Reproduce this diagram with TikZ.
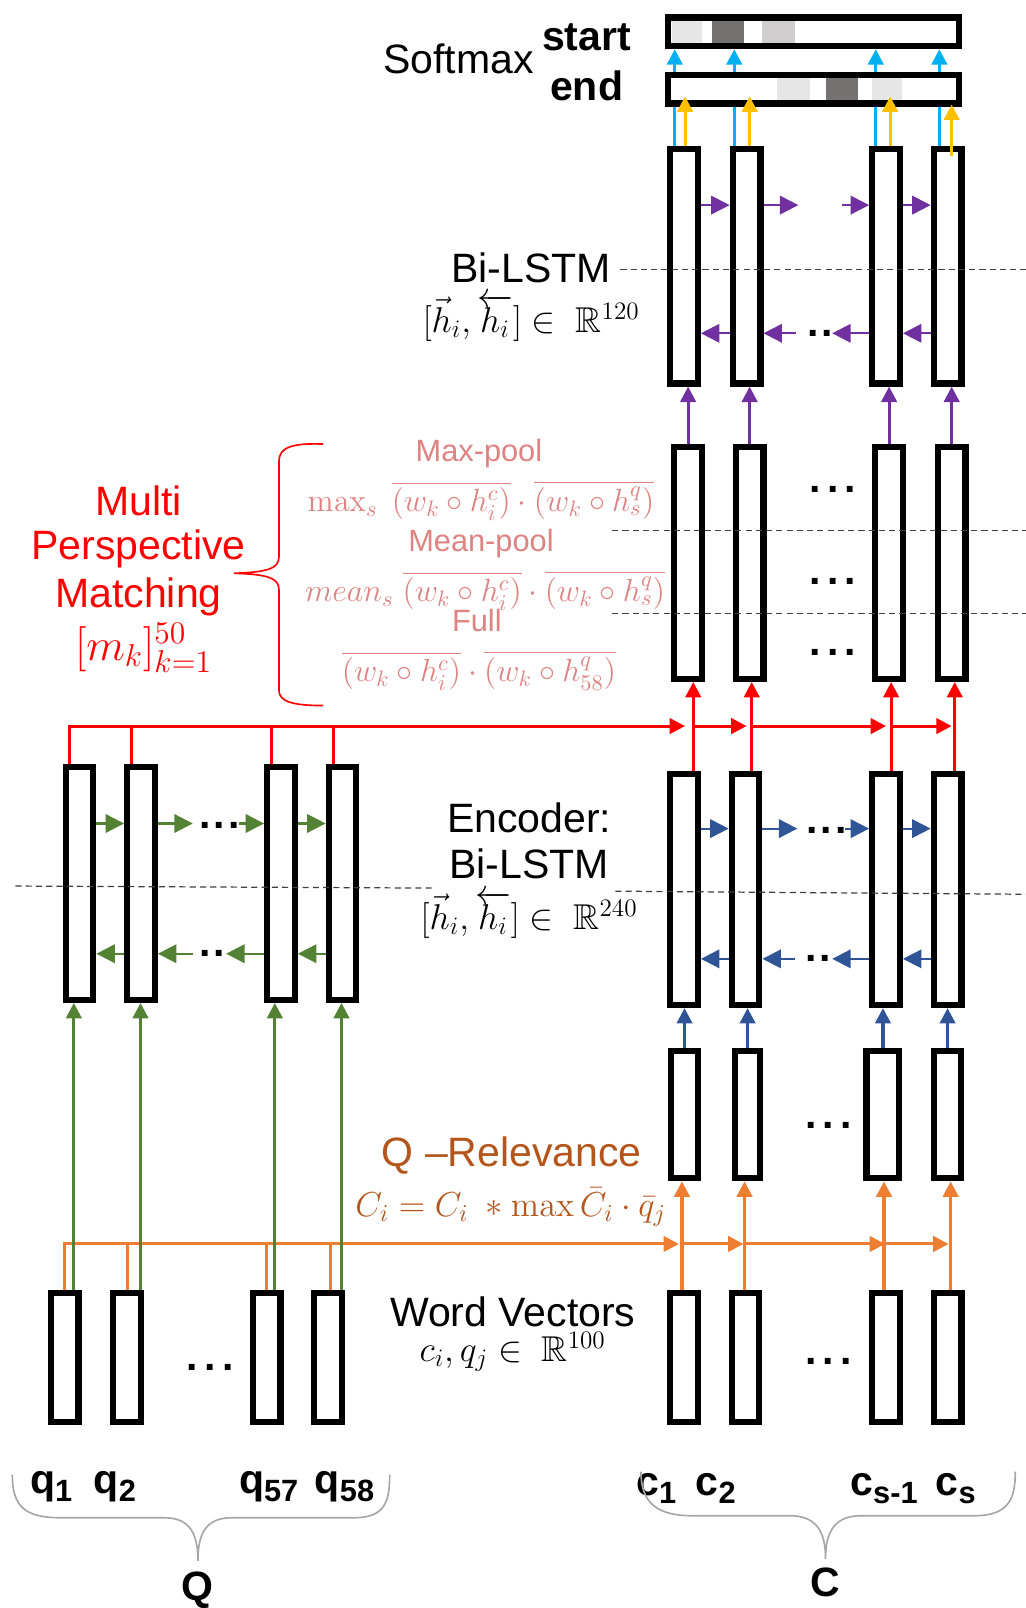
\RequirePackage{fix-cm}
\documentclass[tikz,border=0pt]{standalone}
\usepackage{amsmath,amssymb}
\usepackage[no-math]{fontspec}
\setmainfont{Liberation Sans}
\usetikzlibrary{arrows.meta,calc}
\definecolor{cyanc}{HTML}{00B0F0}
\definecolor{goldc}{HTML}{FFC000}
\definecolor{purc}{HTML}{7030A0}
\definecolor{redc}{HTML}{FF0000}
\definecolor{grnc}{HTML}{548235}
\definecolor{bluc}{HTML}{2F5597}
\definecolor{orc}{HTML}{ED7D31}
\definecolor{brnc}{HTML}{B4561C}
\definecolor{pinkc}{HTML}{DE8282}
\definecolor{bracec}{HTML}{A6A6A6}
\definecolor{sqa}{HTML}{E7E6E6}
\definecolor{sqb}{HTML}{767171}
\definecolor{sqc}{HTML}{D0CECE}
\tikzset{
  cell/.style={draw=black, line width=3pt, fill=white, minimum width=13.5pt, inner sep=0pt},
  smbox/.style={draw=black, line width=3pt, fill=white, minimum width=142pt, minimum height=14pt, inner sep=0pt},
  vtip/.style={-{Triangle[length=7.5pt,width=7.5pt]}},
  htip/.style={-{Triangle[length=9pt,width=9pt]}},
  cyanar/.style={vtip, draw=cyanc, line width=1.5pt},
  goldar/.style={vtip, draw=goldc, line width=1.5pt},
  purv/.style={vtip, draw=purc, line width=1.5pt},
  purh/.style={htip, draw=purc, line width=1pt},
  redln/.style={draw=redc, line width=1.5pt},
  redar/.style={redln, vtip},
  orln/.style={draw=orc, line width=1.5pt},
  orar/.style={orln, vtip},
  grv/.style={vtip, draw=grnc, line width=1.5pt},
  grh/.style={htip, draw=grnc, line width=1pt},
  bluv/.style={vtip, draw=bluc, line width=1.5pt},
  bluh/.style={htip, draw=bluc, line width=1pt},
  dsh/.style={draw=black!75, line width=0.6pt, dash pattern=on 3pt off 2pt},
  dts/.style={inner sep=0pt, font=\fontsize{20}{24}\selectfont\bfseries},
  lbl/.style={inner sep=0pt, font=\fontsize{20}{24}\selectfont},
  blbl/.style={inner sep=0pt, font=\fontsize{20}{24}\selectfont\bfseries},
  mth/.style={inner sep=0pt, font=\fontsize{17.5}{21}\selectfont},
  pinkt/.style={inner sep=0pt, text=pinkc, font=\fontsize{15}{18}\selectfont},
  pinkm/.style={inner sep=0pt, text=pinkc, font=\fontsize{15.6}{18}\selectfont},
  redt/.style={inner sep=0pt, text=redc, font=\fontsize{20}{24}\selectfont},
  brnt/.style={inner sep=0pt, text=brnc, font=\fontsize{20}{24}\selectfont},
  bracel/.style={draw=bracec, line width=0.8pt},
}
\newcommand{\sbl}[1]{\raisebox{-4pt}{\fontsize{15}{15}\selectfont\bfseries #1}}
\newcommand{\hlr}{[\vec{h}_i,\overleftarrow{\smash[t]{h_i}\rule{0pt}{0.68em}}]}
\begin{document}
\begin{tikzpicture}[x=0.5pt,y=-0.5pt]
\useasboundingbox (0,0) rectangle (1000,1568);

% ---------- top Bi-LSTM cells
\foreach \n/\x in {1/667,2/728,3/864,4/924}
  \node[cell,minimum height=114.5pt] (bc\n) at (\x,259.5) {};
% start box
\node[smbox] (sm1) at (793,31) {};
\fill[sqa] (655,20) rectangle (685,42);
\fill[sqb] (694,20) rectangle (725,42);
\fill[sqc] (743,20) rectangle (775,42);
\foreach \n/\d in {1/-9,2/-12,3/-10,4/-8}
  \draw[cyanar] ($(bc\n.north)+(\d,0)$) -- ($(bc\n.north |- sm1.south)+(\d,0)$);
% end box
\node[smbox] (sm2) at (793,87) {};
\fill[sqa] (758,76) rectangle (790,98);
\fill[sqb] (805,76) rectangle (837,98);
\fill[sqa] (850,76) rectangle (880,98);
\foreach \n/\d in {1/1,2/3,3/4}
  \draw[goldar] ($(bc\n.north)+(\d,0)$) -- ($(bc\n.north |- sm2.south)+(\d,-10)$);
\draw[goldar] ($(bc4.north)+(4,10)$) -- ($(bc4.north |- sm2.south)+(4,-2)$);

\node[lbl] (softmax) at (447,57) {Softmax};
\node[blbl] (start) at (572,36) {start};
\node[blbl] (end) at (572,84) {end};

% purple recurrent arrows
\draw[purh] ($(bc1.east)+(0,-59.5)$) -- ($(bc2.west)+(0,-59.5)$);
\draw[purh] ($(bc2.east)+(0,-59.5)$) -- ($(bc2.east)+(34,-59.5)$);
\draw[purh] ($(bc3.west)+(-26,-59.5)$) -- ($(bc3.west)+(0,-59.5)$);
\draw[purh] ($(bc3.east)+(0,-59.5)$) -- ($(bc4.west)+(0,-59.5)$);
\draw[purh] ($(bc2.west)+(0,65.5)$) -- ($(bc1.east)+(0,65.5)$);
\draw[purh] ($(bc2.east)+(32,65.5)$) -- ($(bc2.east)+(0,65.5)$);
\node[dts] (dp1) at (800,325) {.\hspace{1.5pt}.};
\draw[purh] ($(bc3.west)+(0,65.5)$) -- ($(bc3.west)+(-36,65.5)$);
\draw[purh] ($(bc4.west)+(0,65.5)$) -- ($(bc3.east)+(0,65.5)$);
\draw[dsh] (605,263) -- (1000,263);
\node[lbl] (bilstm2) at (518,261) {Bi-LSTM};
\node[mth] (f120) at (518,310) {$\hlr\in\ \mathbb{R}^{120}$};

% ---------- matching cells
\foreach \n/\x in {1/671,2/731,3/867,4/928}
  \node[cell,minimum height=113pt] (mc\n) at (\x,549) {};
\foreach \n in {1,...,4}
  \draw[purv] (mc\n.north) -- (mc\n.north |- bc\n.south);
\node[dts] (dm1) at (812,477) {.\hspace{3pt}.\hspace{3pt}.};
\node[dts] (dm2) at (812,567) {.\hspace{3pt}.\hspace{3pt}.};
\node[dts] (dm3) at (812,636) {.\hspace{3pt}.\hspace{3pt}.};
\draw[dsh] (597,517) -- (1000,517);
\draw[dsh] (597,598) -- (1000,598);

% matching text
\node[pinkt] (maxp) at (467,442) {Max-pool};
\node[pinkm] (fmax) at (469,488) {$\max_s\ \overline{(w_k\circ h_i^c)}\cdot\overline{(w_k\circ h_s^q)}$};
\node[pinkt] (meanp) at (469,530) {Mean-pool};
\node[pinkm] (fmean) at (473,576) {$mean_s\ \overline{(w_k\circ h_i^c)}\cdot\overline{(w_k\circ h_s^q)}$};
\node[pinkt] (full) at (465,605) {Full};
\node[pinkm] (ffull) at (467,654) {$\overline{(w_k\circ h_i^c)}\cdot\overline{(w_k\circ h_{58}^q)}$};
\draw[draw=redc, line width=0.8pt] (315,433) .. controls (285,432) and (272,436) .. (272,450) -- (272,543) .. controls (272,554) and (262,558) .. (228,559) .. controls (262,560) and (272,564) .. (272,575) -- (272,673) .. controls (272,684) and (285,688) .. (315,688);
\node[redt] (multi) at (135,488) {Multi};
\node[redt] (persp) at (135,535) {Perspective};
\node[redt] (match) at (135,582) {Matching};
\node[redt, font=\fontsize{22}{26}\selectfont] (mk) at (140,632) {$[m_k]_{k=1}^{50}$};

% ---------- encoder cells
\foreach \n/\x in {1/667,2/727,3/864,4/924}
  \node[cell,minimum height=112.5pt] (ec\n) at (\x,867.5) {};
\foreach \n/\x in {1/77.5,2/137.5,3/274,4/334}
  \node[cell,minimum height=113.5pt] (eq\n) at (\x,861.5) {};

% red connections
\coordinate (rbus) at (0,708);
\draw[redar] ($(eq1.north)+(-10,0)$) |- ($(ec1.north |- rbus)+(1,0)$);
\foreach \n in {2,3,4}
  \draw[redln] ($(eq\n.north)+(-9,0)$) -- ($(eq\n.north |- rbus)+(-9,-1.5)$);
\foreach \n/\d in {1/9,2/6,3/5,4/7}
  \draw[redar] ($(ec\n.north)+(\d,0)$) -- ($(ec\n.north |- mc\n.south)+(\d,0)$);
\draw[redar] ($(ec1.north |- rbus)+(9,0)$) -- ($(ec2.north |- rbus)+(1,0)$);
\draw[redar] ($(ec2.north |- rbus)+(6,0)$) -- ($(ec3.north |- rbus)+(0,0)$);
\draw[redar] ($(ec3.north |- rbus)+(5,0)$) -- ($(ec4.north |- rbus)+(4,0)$);

% green recurrent
\draw[grh] ($(eq1.east)+(0,-58.5)$) -- ($(eq2.west)+(0,-58.5)$);
\draw[grh] ($(eq2.east)+(0,-58.5)$) -- ($(eq2.east)+(34,-58.5)$);
\node[dts] (dg1) at (214,805) {.\hspace{1.5pt}.\hspace{1.5pt}.};
\draw[grh] ($(eq3.west)+(-24,-58.5)$) -- ($(eq3.west)+(0,-58.5)$);
\draw[grh] ($(eq3.east)+(0,-58.5)$) -- ($(eq4.west)+(0,-58.5)$);
\draw[grh] ($(eq2.west)+(0,68.5)$) -- ($(eq1.east)+(0,68.5)$);
\draw[grh] ($(eq2.east)+(34,68.5)$) -- ($(eq2.east)+(0,68.5)$);
\node[dts] (dg2) at (207,930) {.\hspace{1.5pt}.};
\draw[grh] ($(eq3.west)+(0,68.5)$) -- ($(eq3.west)+(-37,68.5)$);
\draw[grh] ($(eq4.west)+(0,68.5)$) -- ($(eq3.east)+(0,68.5)$);

% blue recurrent
\draw[bluh] ($(ec1.east)+(0,-59.5)$) -- ($(ec2.west)+(0,-59.5)$);
\draw[bluh] ($(ec2.east)+(0,-59.5)$) -- ($(ec2.east)+(34,-59.5)$);
\node[dts] (db1) at (806,810) {.\hspace{1.5pt}.\hspace{1.5pt}.};
\draw[bluh] ($(ec3.west)+(-24,-59.5)$) -- ($(ec3.west)+(0,-59.5)$);
\draw[bluh] ($(ec3.east)+(0,-59.5)$) -- ($(ec4.west)+(0,-59.5)$);
\draw[bluh] ($(ec2.west)+(0,67.5)$) -- ($(ec1.east)+(0,67.5)$);
\draw[bluh] ($(ec2.east)+(32,67.5)$) -- ($(ec2.east)+(0,67.5)$);
\node[dts] (db2) at (798,935) {.\hspace{1.5pt}.};
\draw[bluh] ($(ec3.west)+(0,67.5)$) -- ($(ec3.west)+(-36,67.5)$);
\draw[bluh] ($(ec4.west)+(0,67.5)$) -- ($(ec3.east)+(0,67.5)$);

\draw[dsh] (15,864) -- (425,866);
\draw[dsh] (600,869) -- (1000,872);
\node[lbl] (encoder) at (516,797) {Encoder:};
\node[lbl] (bilstm1) at (516,842) {Bi-LSTM};
\node[mth] (f240) at (516,892) {$\hlr\in\ \mathbb{R}^{240}$};

% ---------- relevance cells
\node[cell,minimum width=13.5pt,minimum height=62pt] (rc1) at (667.5,1087) {};
\node[cell,minimum width=12pt,minimum height=62pt] (rc2) at (729,1087) {};
\node[cell,minimum width=16pt,minimum height=62pt] (rc3) at (861,1087) {};
\node[cell,minimum width=13pt,minimum height=62pt] (rc4) at (924,1087) {};
\node[dts] (dr1) at (808,1097) {.\hspace{3pt}.\hspace{3pt}.};
\foreach \n in {1,...,4}
  \draw[bluv] (rc\n.north) -- (rc\n.north |- ec\n.south);
\node[brnt] (qrel) at (499,1127) {Q --Relevance};
\node[inner sep=0pt, text=brnc, font=\fontsize{16.9}{20}\selectfont] (frel) at (498,1177) {$C_i = C_i\ \ast\max\bar{C}_i\cdot\bar{q}_j$};

% ---------- word vector cells
\foreach \n/\x in {1/667,2/727,3/864,4/924}
  \node[cell,minimum height=63pt] (wc\n) at (\x,1324) {};
\foreach \n/\x in {1/63,2/124,3/260,4/320}
  \node[cell,minimum height=63pt] (wq\n) at (\x,1324) {};
\node[dts] (dw1) at (808,1328) {.\hspace{3pt}.\hspace{3pt}.};
\node[dts] (dw2) at (205,1333) {.\hspace{3pt}.\hspace{3pt}.};

% orange connections
\coordinate (obus) at (0,1213);
\draw[orar] (wq1.north) |- ($(wc1.north |- obus)+(-5,0)$);
\foreach \n/\d in {2/0,3/0,4/2}
  \draw[orln] ($(wq\n.north)+(\d,0)$) -- ($(wq\n.north |- obus)+(\d,-1.5)$);
\foreach \n/\d in {1/-2,2/-1,3/-2,4/3}
  \draw[orar] ($(wc\n.north)+(\d,0)$) -- ($(wc\n.north |- rc\n.south)+(\d,0)$);
\draw[orar] ($(wc1.north |- obus)+(-2,0)$) -- ($(wc2.north |- obus)+(-2,0)$);
\draw[orar] ($(wc2.north |- obus)+(-1,0)$) -- ($(wc3.north |- obus)+(-1,0)$);
\draw[orar] ($(wc3.north |- obus)+(-2,0)$) -- ($(wc4.north |- obus)+(1,0)$);

% green vertical
\foreach \n/\d in {1/9,2/13,3/8,4/13}
  \draw[grv] ($(wq\n.north)+(\d,0)$) -- ($(wq\n.north |- eq\n.south)+(\d,0)$);

\node[lbl] (wordv) at (500,1279) {Word Vectors};
\node[mth] (f100) at (500,1318) {$c_i,q_j\in\ \mathbb{R}^{100}$};

% ---------- bottom labels
\node[blbl, anchor=base] (q1) at (50,1456) {q\sbl{1}};
\node[blbl, anchor=base] (q2) at (112,1456) {q\sbl{2}};
\node[blbl, anchor=base] (q57) at (262,1456) {q\sbl{57}};
\node[blbl, anchor=base] (q58) at (336,1456) {q\sbl{58}};
\node[blbl, anchor=base] (c1) at (640,1458) {c\sbl{1}};
\node[blbl, anchor=base] (c2) at (698,1458) {c\sbl{2}};
\node[blbl, anchor=base] (cs1) at (862,1458) {c\sbl{s-1}};
\node[blbl, anchor=base] (cs) at (932,1458) {c\sbl{s}};
\draw[bracel] (12,1438) .. controls (12,1470) and (25,1480) .. (60,1480) -- (160,1480) .. controls (185,1480) and (193,1495) .. (193,1522) .. controls (193,1495) and (201,1480) .. (226,1480) -- (345,1480) .. controls (375,1480) and (380,1465) .. (380,1438);
\draw[bracel] (625,1435) .. controls (625,1465) and (640,1478) .. (675,1478) -- (770,1478) .. controls (795,1478) and (805,1492) .. (805,1520) .. controls (805,1492) and (815,1478) .. (840,1478) -- (950,1478) .. controls (985,1478) and (990,1460) .. (990,1435);
\node[blbl] (Qlab) at (193,1551) {Q};
\node[blbl] (Clab) at (805,1543) {C};
\end{tikzpicture}
\end{document}
